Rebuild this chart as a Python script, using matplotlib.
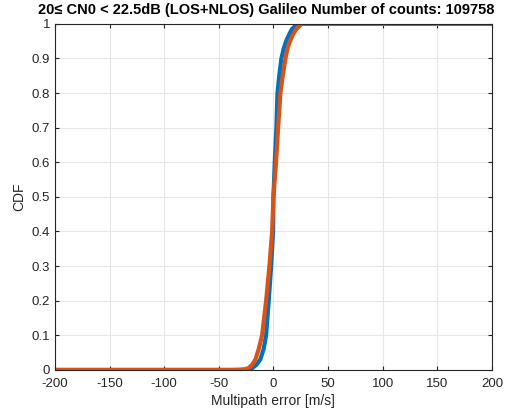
#!/usr/bin/env python3
"""CDF of multipath error, 20 <= CN0 < 22.5 dB, Galileo (LOS+NLOS)."""

import matplotlib
matplotlib.use("Agg")
import matplotlib.pyplot as plt

plt.rcParams["font.family"] = ["Liberation Sans", "DejaVu Sans"]
plt.rcParams["axes.unicode_minus"] = False

# CDF points (x in m/s)
blue_x = [-200, -32, -24, -19.5, -15.5, -12, -9, -6.7, -4.3, -2.1, -0.3, 0, 1.2,
          2.7, 3.7, 5.3, 7.3, 9.5, 12, 14.5, 17, 22, 200]
blue_cdf = [0, 0, 0.001, 0.005, 0.015, 0.03, 0.06, 0.1, 0.2, 0.3, 0.4, 0.5, 0.6,
            0.7, 0.8, 0.85, 0.9, 0.93, 0.953, 0.97, 0.985, 1, 1]
orange_x = [-200, -38, -28, -22.8, -19.5, -16.5, -13.5, -10.4, -6.7, -3.7, -1.2, 0,
            2.4, 4.3, 6.4, 8.5, 11, 13, 15.6, 18, 21, 26, 200]
orange_cdf = [0, 0, 0.001, 0.005, 0.015, 0.03, 0.06, 0.1, 0.2, 0.3, 0.4, 0.5,
              0.6, 0.7, 0.8, 0.85, 0.9, 0.93, 0.953, 0.97, 0.985, 1, 1]

x_ticks = [-200, -150, -100, -50, 0, 50, 100, 150, 200]
y_ticks = [0, 0.1, 0.2, 0.3, 0.4, 0.5, 0.6, 0.7, 0.8, 0.9, 1]
y_labels = ["0", "0.1", "0.2", "0.3", "0.4", "0.5", "0.6", "0.7", "0.8", "0.9", "1"]

fig = plt.figure(figsize=(5.08, 4.18), dpi=100)
ax = fig.add_axes([0.108, 0.115, 0.8605, 0.828])

ax.plot(blue_x, blue_cdf, color="#0072BD", lw=3, solid_joinstyle="round")
ax.plot(orange_x, orange_cdf, color="#D95319", lw=3, solid_joinstyle="round")

ax.set_xlim(-200, 200)
ax.set_ylim(0, 1)
ax.set_xticks(x_ticks)
ax.set_yticks(y_ticks)
ax.set_yticklabels(y_labels)
ax.grid(True, color="#e6e6e6", lw=0.8)
ax.set_axisbelow(True)
ax.tick_params(direction="in", length=3, labelsize=9.5, colors="#262626",
               top=True, right=True)
ax.tick_params(axis="x", pad=6)
for s in ax.spines.values():
    s.set_color("#262626")
    s.set_linewidth(0.8)

ax.set_xlabel("Multipath error [m/s]", fontsize=10, color="#262626", labelpad=3)
ax.set_ylabel("CDF", fontsize=10, color="#262626")
ax.set_title("20\u2264 CN0 < 22.5dB (LOS+NLOS) Galileo Number of counts: 109758",
             fontsize=10.5, fontweight="bold", pad=7, x=0.483,
             family=["Liberation Sans", "DejaVu Sans"])

fig.savefig("out.png", dpi=100)
